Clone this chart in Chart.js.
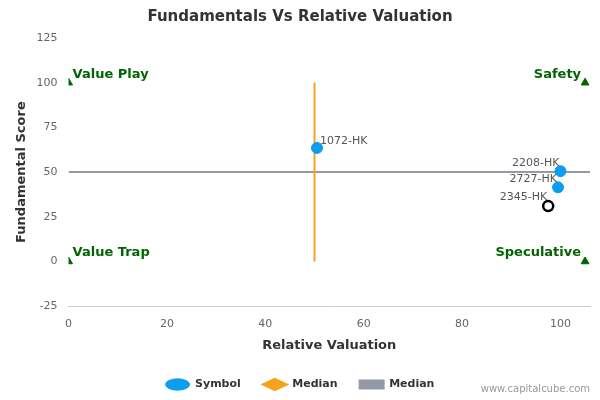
<!DOCTYPE html>
<html>
<head>
<meta charset="utf-8">
<script src="https://cdn.jsdelivr.net/npm/chart.js@4"></script>
<style>
  body { margin: 0; background: #fff; }
  #wrap { position: relative; width: 600px; height: 400px; }
  #credit { position: absolute; right: 10px; bottom: 6px; font: 10px "DejaVu Sans", sans-serif; color: #999; }
</style>
</head>
<body>
<div id="wrap">
  <canvas id="c" width="600" height="400"></canvas>
  <div id="credit">www.capitalcube.com</div>
</div>
<script>
// symbols
const symbolNames = ["1072-HK", "2208-HK", "2727-HK"];
const symbolX = [50.5, 100, 99.5];
const symbolY = [63.5, 50.5, 41.5];
// highlighted company
const focusName = "2345-HK";
const focusX = 97.5;
const focusY = 31;
// medians
const medianX = 50;
const medianY = 50;
// quadrant markers
const quadNames = ["Value Play", "Safety", "Value Trap", "Speculative"];
const quadX = [0, 105, 0, 105];
const quadY = [100, 100, 0, 0];
const yTicks = [-25, 0, 25, 50, 75, 100, 125];

const font = "'DejaVu Sans', sans-serif";

const labelPlugin = {
  id: "labels",
  afterDatasetsDraw(chart) {
    const ctx = chart.ctx;
    const xs = chart.scales.x, ys = chart.scales.y;
    ctx.save();
    ctx.font = "11px " + font;
    ctx.fillStyle = "#555";
    ctx.textBaseline = "bottom";
    ctx.textAlign = "left";
    ctx.fillText(symbolNames[0], xs.getPixelForValue(symbolX[0]) + 3, ys.getPixelForValue(symbolY[0]) - 1);
    ctx.textAlign = "right";
    for (let i = 1; i < symbolNames.length; i++) {
      ctx.fillText(symbolNames[i], xs.getPixelForValue(symbolX[i]) - 1, ys.getPixelForValue(symbolY[i]) - 3);
    }
    ctx.fillText(focusName, xs.getPixelForValue(focusX) - 1, ys.getPixelForValue(focusY) - 3);
    ctx.font = "bold 13px " + font;
    ctx.fillStyle = "#006400";
    quadNames.forEach((n, i) => {
      const px = xs.getPixelForValue(quadX[i]), py = ys.getPixelForValue(quadY[i]);
      ctx.textAlign = quadX[i] === 0 ? "left" : "right";
      ctx.fillText(n, px + (quadX[i] === 0 ? 4 : -4), py - 2);
    });
    ctx.restore();
  }
};

new Chart(document.getElementById("c"), {
  type: "scatter",
  data: {
    datasets: [
      {
        label: "Symbol",
        data: symbolX.map((x, i) => ({ x: x, y: symbolY[i] })),
        backgroundColor: "#0a9df0", borderColor: "#0a9df0",
        pointRadius: 5.5, pointHoverRadius: 5.5, pointStyle: "circle", order: 1
      },
      {
        label: "Median",
        data: [{ x: medianX, y: 0 }, { x: medianX, y: 100 }],
        showLine: true, borderColor: "#f7a21b", backgroundColor: "#f7a21b",
        borderWidth: 2, pointRadius: 0, pointStyle: "rectRot", order: 3
      },
      {
        label: "Median",
        data: [{ x: 0, y: medianY }, { x: 106, y: medianY }],
        showLine: true, borderColor: "#9399a5", backgroundColor: "#9399a5",
        borderWidth: 2, pointRadius: 0, pointStyle: "rect", order: 3
      },
      {
        label: "focus",
        data: [{ x: focusX, y: focusY }],
        backgroundColor: "#fff", borderColor: "#000", borderWidth: 2.5,
        pointRadius: 5, pointStyle: "circle", order: 0
      },
      {
        label: "quad",
        data: quadX.map((x, i) => ({ x: x, y: quadY[i] })),
        backgroundColor: "#006400", borderColor: "#006400",
        pointRadius: 4.5, pointStyle: "triangle", order: 2
      }
    ]
  },
  options: {
    responsive: false,
    animation: false,
    layout: { padding: { left: 10, right: 10, top: 0, bottom: 0 } },
    plugins: {
      title: {
        display: true, text: "Fundamentals Vs Relative Valuation",
        color: "#333", font: { family: font, size: 15 }, padding: { top: 8, bottom: 12 }
      },
      legend: {
        position: "bottom",
        labels: {
          filter: item => item.text !== "focus" && item.text !== "quad",
          usePointStyle: true, pointStyleWidth: 24, boxHeight: 8,
          color: "#333", font: { family: font, size: 11, weight: "bold" }, padding: 22
        }
      },
      tooltip: { enabled: false }
    },
    scales: {
      x: {
        type: "linear", min: 0, max: 106,
        afterBuildTicks: s => { s.ticks = s.ticks.filter(t => t.value % 20 === 0); },
        ticks: { stepSize: 20, color: "#666", font: { family: font, size: 11 } },
        grid: { display: false },
        border: { color: "#c0d0e0" },
        title: { display: true, text: "Relative Valuation", color: "#333", font: { family: font, size: 13, weight: "bold" } }
      },
      y: {
        type: "linear", min: -25, max: 125,
        afterBuildTicks: s => { s.ticks = yTicks.map(v => ({ value: v })); },
        ticks: { color: "#666", font: { family: font, size: 11 } },
        grid: { display: false },
        border: { display: false },
        title: { display: true, text: "Fundamental Score", color: "#333", font: { family: font, size: 13, weight: "bold" } }
      }
    }
  },
  plugins: [labelPlugin]
});
</script>
</body>
</html>
